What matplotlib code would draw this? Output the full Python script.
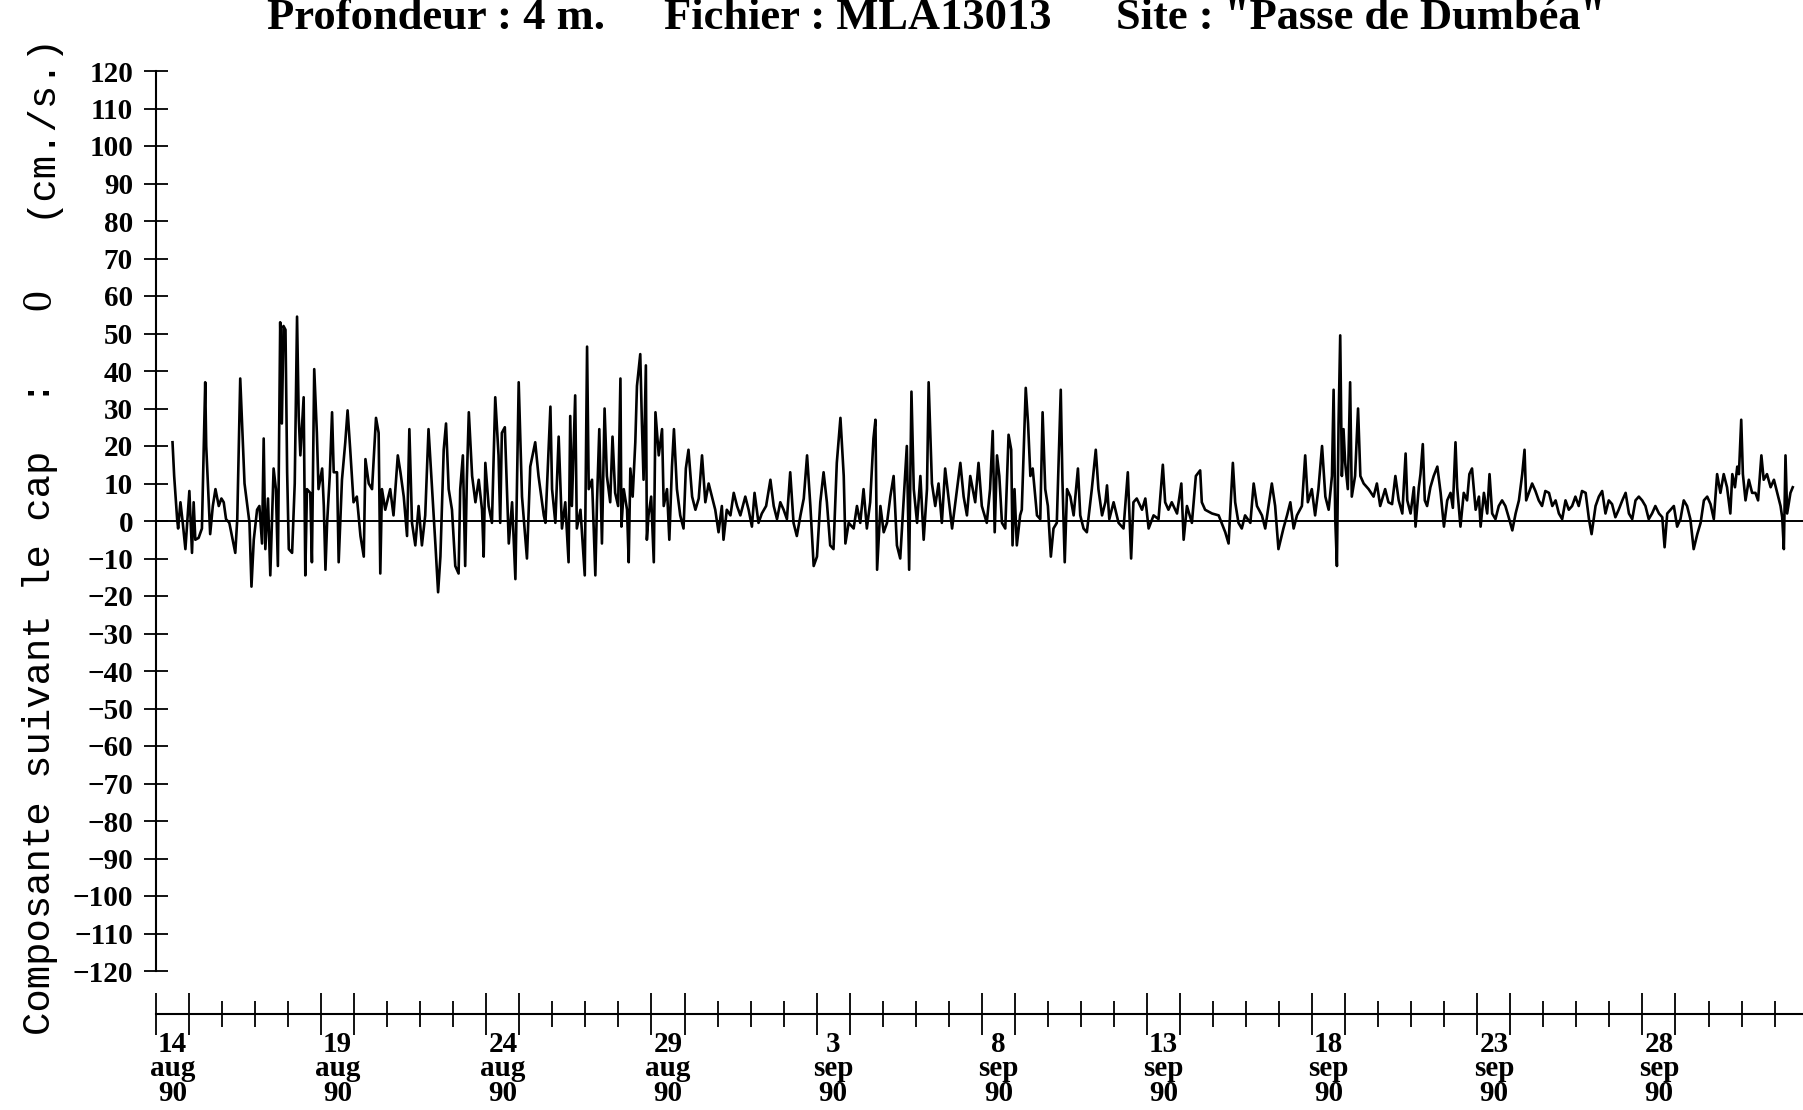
import numpy as np
import matplotlib.pyplot as plt

# composante du courant (cm/s) en fonction du temps (jours depuis le 14 aug 90 0h)
aout_1 = [(0.50,21),(0.55,12),(0.64,0.5),(0.67,-2),(0.74,5),(0.81,-0.5),(0.89,-7.5),(1.01,8),(1.09,-8.5),(1.14,5),
          (1.19,-5),(1.29,-4.5),(1.39,-2),(1.49,37),(1.52,20),(1.57,10),(1.64,-3.5),(1.72,4),(1.80,8.5),(1.90,4),
          (1.98,6),(2.05,5),(2.12,0.5),(2.22,-0.5),(2.30,-4),(2.40,-8.5),(2.46,0.5),(2.55,38),(2.60,27),(2.68,10),
          (2.75,5),(2.83,-0.5),(2.89,-17.5),(2.96,-5),(3.06,3),(3.13,4),(3.21,-6),(3.26,22),(3.31,-7.5),(3.39,6),
          (3.46,-14.5),(3.56,14),(3.63,8.5),(3.69,-12),(3.76,53),(3.81,26),(3.86,52),(3.92,51),(3.97,13),(4.02,-7.5),
          (4.12,-8.5),(4.20,10),(4.27,54.5),(4.32,28),(4.37,17.5),(4.47,33),(4.52,-14.5),(4.57,8.5),(4.67,7.5),(4.72,-11),
          (4.79,40.5),(4.87,23.5),(4.92,8.5),(5.03,14),(5.08,4),(5.13,-13),(5.18,-0.5),(5.26,12),(5.33,29),(5.38,13),
          (5.48,13),(5.53,-11),(5.63,11),(5.73,21),(5.80,29.5),(5.88,19),(5.98,5),(6.08,6.5),(6.19,-4),(6.29,-9.5),
          (6.34,16.5),(6.44,10),(6.54,8.5),(6.66,27.5),(6.74,23.5),(6.79,-14),(6.84,8.5),(6.94,3),(7.09,8.5),(7.19,1.5),
          (7.32,17.5),(7.40,13),(7.50,6.5),(7.60,-4),(7.67,24.5),(7.75,-0.5),(7.85,-6.5),(7.95,4),(8.05,-6.5),(8.15,1.5),
          (8.25,24.5),(8.36,8.5),(8.46,-6.5),(8.54,-19),(8.61,-9.5),(8.71,19),(8.78,26),(8.86,8.5),(8.96,3),(9.06,-12),
          (9.16,-14),(9.21,8.5),(9.29,17.5),(9.36,-12),(9.41,11),(9.47,29),(9.57,12),(9.67,5),(9.77,11),(9.87,3),
          (9.92,-9.5),(9.97,15.5),(10.07,4),(10.17,-0.5),(10.27,33),(10.37,17.5),(10.42,-0.5),(10.47,23.5),(10.56,25),(10.63,6.5),
          (10.68,-6),(10.78,5),(10.88,-15.5),(10.98,37),(11.08,6.5),(11.23,-10),(11.33,14.5),(11.48,21),(11.58,12),(11.74,1.5),
          (11.79,-0.5),(11.94,30.5),(11.99,8.5),(12.09,-0.5),(12.19,22.5),(12.29,-2),(12.39,5),(12.49,-11),(12.54,28)]

aout_2 = [(12.59,4),(12.69,33.5),(12.74,-2),(12.85,3),(12.98,-14.5),(13.05,46.5),(13.10,8.5),(13.20,11),(13.30,-14.5),(13.35,5),
          (13.42,24.5),(13.50,-6),(13.58,30),(13.65,12),(13.75,5),(13.82,22.5),(13.90,7.5),(13.99,4),(14.06,38),(14.09,-1.5),
          (14.16,8.5),(14.26,3),(14.31,-11),(14.36,14),(14.43,6.5),(14.51,21),(14.56,36),(14.66,44.5),(14.71,26),(14.76,11),
          (14.83,41.5),(14.86,-5),(14.91,1.5),(14.99,6.5),(15.07,-11),(15.12,29),(15.22,17.5),(15.32,24.5),(15.37,4),(15.47,8.5),
          (15.54,-5),(15.62,14.5),(15.68,24.5),(15.77,8.5),(15.87,1.5),(15.97,-2),(16.04,14),(16.12,19),(16.23,6.5),(16.33,3),
          (16.43,6),(16.53,17.5),(16.63,5),(16.73,10),(16.83,6.5),(16.93,3),(17.03,-3),(17.13,4),(17.18,-5),(17.28,3),
          (17.39,1.5),(17.49,7.5),(17.59,4),(17.69,1.5),(17.84,6.5),(17.94,3),(18.04,-1.5),(18.12,7.5),(18.24,-0.5),(18.34,2),
          (18.47,4),(18.60,11),(18.70,4),(18.80,0.5),(18.90,5),(19.00,3),(19.10,0.5),(19.20,13),(19.30,-0.5),(19.40,-4),
          (19.51,1.5),(19.61,6),(19.71,17.5),(19.81,4),(19.91,-12),(20.01,-9.5),(20.11,5),(20.21,13),(20.31,5),(20.41,-6.5),
          (20.51,-7.5),(20.61,15.5),(20.72,27.5),(20.82,12),(20.87,-6),(20.97,-0.5),(21.12,-2),(21.22,4),(21.32,-0.5),(21.42,8.5),
          (21.52,-2),(21.62,5),(21.72,22),(21.78,27),(21.83,-13),(21.93,4),(22.03,-3),(22.13,-0.5),(22.23,6.5),(22.33,12),
          (22.43,-6.5),(22.53,-10),(22.63,5),(22.73,20),(22.80,-13),(22.87,34.5),(22.94,8.5),(23.04,-0.5),(23.14,12),(23.24,-5),
          (23.34,8.5),(23.39,37),(23.49,10),(23.59,4),(23.69,10),(23.79,-0.5),(23.89,14),(23.99,6.5),(24.10,-2),(24.20,5),
          (24.35,15.5),(24.45,6.5),(24.55,1.5),(24.65,12),(24.80,5),(24.90,15.5)]

sept_1 = [(25.00,4),(25.15,-0.5),(25.25,8.5),(25.33,24),(25.39,-3),(25.46,17.5),(25.53,12),(25.61,-0.5),(25.71,-2),(25.81,23),
          (25.89,19),(25.93,-6.5),(25.99,8.5),(26.06,-6.5),(26.16,1.5),(26.21,3),(26.33,35.5),(26.40,26),(26.47,12),(26.54,14),
          (26.67,1.5),(26.77,0.5),(26.84,29),(26.92,8.5),(27.00,4),(27.09,-9.5),(27.17,-2),(27.27,-0.5),(27.32,14),(27.39,35),
          (27.44,11),(27.51,-11),(27.58,8.5),(27.68,6.5),(27.78,1.5),(27.91,14),(27.98,1.5),(28.08,-2),(28.18,-3),(28.33,8.5),
          (28.45,19),(28.53,8.5),(28.64,1.5),(28.74,5),(28.79,9.5),(28.86,0.5),(28.99,5),(29.14,-0.5),(29.29,-2),(29.42,13),
          (29.52,-10),(29.59,5),(29.69,6),(29.85,3),(29.95,6),(30.05,-2),(30.20,1.5),(30.35,0.5),(30.48,15),(30.55,5),
          (30.65,3),(30.75,5),(30.91,2),(31.04,10),(31.11,-5),(31.21,4),(31.36,-0.5),(31.48,12),(31.61,13.5),(31.66,5),
          (31.76,3),(31.97,2),(32.17,1.5),(32.37,-3),(32.47,-6),(32.60,15.5),(32.67,5),(32.77,-0.5),(32.87,-2),(32.97,1.5),
          (33.13,-0.5),(33.23,10),(33.33,4),(33.48,1.5),(33.58,-2),(33.78,10),(33.88,4),(33.98,-7.5),(34.13,-2),(34.24,1.5),
          (34.34,5),(34.44,-2),(34.54,1.5),(34.69,4),(34.79,17.5),(34.87,5),(34.99,8.5),(35.09,1.5),(35.19,8.5),(35.30,20),
          (35.40,6.5),(35.50,3),(35.60,12),(35.65,35),(35.70,0.5),(35.75,-12),(35.80,26),(35.85,49.5),(35.90,12),(35.95,24.5),
          (36.00,15.5),(36.08,8.5),(36.15,37),(36.20,6.5),(36.30,12),(36.39,30),(36.46,12),(36.56,10),(36.71,8.5),(36.86,6.5),
          (36.96,10),(37.06,4),(37.21,8.5),(37.31,5)]

sept_2 = [(37.42,4.5),(37.52,12),(37.62,5.5),(37.73,2),(37.83,18),(37.88,5.5),(37.98,2),(38.08,9),(38.13,-1.5),(38.23,9),
          (38.28,12.5),(38.35,20.5),(38.41,5.5),(38.48,4),(38.58,9),(38.68,12),(38.79,14.5),(38.89,7.5),(38.99,-1.5),(39.09,5.5),
          (39.19,7.5),(39.26,3.5),(39.34,21),(39.39,9),(39.49,-1.5),(39.59,7.5),(39.69,5.5),(39.76,12.5),(39.84,14),(39.95,3),
          (40.05,6.5),(40.10,-1.5),(40.20,7.5),(40.30,2),(40.37,12.5),(40.45,2),(40.55,0.5),(40.65,4),(40.75,5.5),(40.85,4),
          (40.95,1),(41.06,-2.5),(41.16,2),(41.26,5.5),(41.36,12.5),(41.43,19),(41.48,5.5),(41.56,7.5),(41.66,10),(41.76,8),
          (41.86,5.5),(41.96,4),(42.06,8),(42.17,7.5),(42.27,4),(42.37,5.5),(42.47,2),(42.57,0.5),(42.67,5.5),(42.77,3),
          (42.87,4),(42.97,6.5),(43.07,4),(43.17,8),(43.28,7.5),(43.38,0.5),(43.46,-3.5),(43.58,4),(43.68,6.5),(43.78,8),
          (43.88,2),(43.98,5.5),(44.08,4.5),(44.18,1),(44.28,3),(44.39,5.5),(44.49,7.5),(44.59,2),(44.69,0.5),(44.79,5.5),
          (44.89,6.5),(44.99,5.5),(45.09,4),(45.19,0.5),(45.29,2),(45.39,4),(45.50,2),(45.60,1),(45.67,-7),(45.75,2),
          (45.85,3),(45.95,4),(46.05,-1.5),(46.15,0.5),(46.25,5.5),(46.35,4),(46.45,0.5),(46.55,-7.5),(46.66,-3.5),(46.76,-0.5),
          (46.86,5.5),(46.96,6.5),(47.06,4.5),(47.16,0.5),(47.26,12.5),(47.36,7.5),(47.46,12.5),(47.56,9),(47.66,2),(47.72,12.5),
          (47.80,9),(47.87,14.5),(47.92,12.5),(47.99,27),(48.04,12.5),(48.12,5.5),(48.22,11),(48.32,7.5),(48.42,7.5),(48.50,5.5),
          (48.60,17.5),(48.67,11),(48.77,12.5),(48.88,9),(48.98,11),(49.08,7.5),(49.18,4),(49.23,1),(49.28,-7.5),(49.33,17.5),
          (49.38,2),(49.48,7.5),(49.55,9)]

dates = ['14 aug 90', '19 aug 90', '24 aug 90', '29 aug 90', '3 sep 90',
         '8 sep 90', '13 sep 90', '18 sep 90', '23 sep 90', '28 sep 90']
jours_dates = [0, 5, 10, 15, 20, 25, 30, 35, 40, 45]

t, v = np.array(aout_1 + aout_2 + sept_1 + sept_2).T

plt.rcParams['font.family'] = 'Liberation Serif'
plt.rcParams['font.weight'] = 'bold'

fig = plt.figure(figsize=(18.03, 11.10), dpi=100)
ax = fig.add_axes([156/1803, 139/1110, 1647/1803, 900/1110])
ax.plot(t, v, color='black', lw=1.9)
ax.axhline(0, color='black', lw=1.4)
ax.set_xlim(0, 49.86)
ax.set_ylim(-120, 120)

ax.spines['top'].set_visible(False)
ax.spines['right'].set_visible(False)
ax.spines['left'].set_linewidth(1.5)
ax.spines['bottom'].set_linewidth(1.5)
ax.spines['bottom'].set_position(('outward', 31))

ax.set_yticks(range(-120, 121, 10))
ax.tick_params(axis='y', direction='inout', length=17, width=1.3, pad=8, labelsize=21)

# etiquettes au milieu de la journee
ax.set_xticks([d + 0.5 for d in jours_dates], [s.replace(' ', '\n') for s in dates])
ax.tick_params(axis='x', which='major', length=0, pad=12, labelsize=21)
for lab in ax.get_xticklabels():
    lab.set_linespacing(0.88)

longs = [d + k for d in jours_dates for k in (0, 1)]
ax.set_xticks([d for d in range(50) if d not in longs], minor=True)
ax.tick_params(axis='x', which='minor', direction='inout', length=19, width=1.3)

sec = ax.secondary_xaxis(-43/900)
sec.set_xticks(longs)
sec.tick_params(direction='inout', length=30, width=1.3, labelbottom=False)
sec.spines['bottom'].set_visible(False)
sec.spines['top'].set_visible(False)

fig.text(267/1803, 1 - 29/1110, 'Profondeur : 4 m.', ha='left', va='baseline', fontsize=32)
fig.text(664/1803, 1 - 29/1110, 'Fichier : MLA13013', ha='left', va='baseline', fontsize=32)
fig.text(1116/1803, 1 - 29/1110, 'Site : "Passe de Dumbéa"', ha='left', va='baseline', fontsize=32)

# titre de l'axe en police a chasse fixe, le zero en serif (pas de zero pointe)
fs = 28
pas = 0.6 * fs * 100 / 72
mono = dict(rotation=90, ha='center', va='bottom', family='Liberation Mono', fontweight='normal', fontsize=fs)
fig.text(40/1803, 75/1110, 'Composante suivant le cap  :', **mono)
fig.text(40/1803, (75 + 31.5 * pas)/1110, '0', rotation=90, ha='center', va='center',
         fontweight='normal', fontsize=fs + 2)
fig.text(40/1803, (75 + 35 * pas)/1110, '(cm./s.)', **mono)

fig.savefig('out.png', dpi=100)
